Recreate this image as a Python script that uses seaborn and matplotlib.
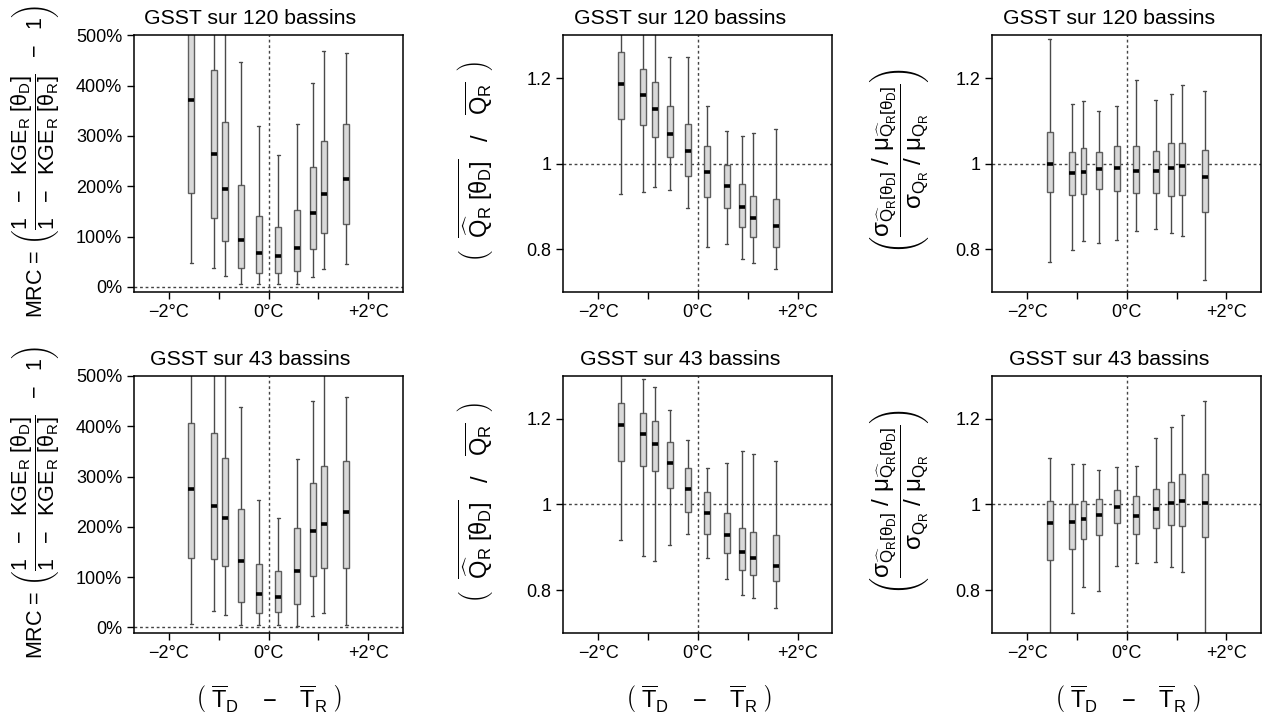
# boxplots of calibration transfer scores vs. temperature shift (GSST)

import numpy as np
import pandas as pd
import matplotlib
matplotlib.use("Agg")
import matplotlib.pyplot as plt
import seaborn as sns

sns.set_theme(style="ticks")
plt.rcParams["font.family"] = ["Liberation Sans", "DejaVu Sans"]
plt.rcParams["mathtext.fontset"] = "custom"
plt.rcParams["mathtext.rm"] = "Liberation Sans"
plt.rcParams["mathtext.it"] = "Liberation Sans"
plt.rcParams["mathtext.bf"] = "Liberation Sans:bold"
plt.rcParams["mathtext.sf"] = "Liberation Sans"
plt.rcParams["text.color"] = "black"

# temperature difference of each test period (degC)
delta_t = [-1.55, -1.1, -0.87, -0.56, -0.2, 0.19, 0.58, 0.89, 1.11, 1.56]

# five-number summaries: whisker low, Q1, median, Q3, whisker high
# MRC (%), 120 catchments
mrc120_lo = [48, 38, 21, 5, 6, 6, 5, 19, 36, 46]
mrc120_q1 = [187, 137, 91, 37, 28, 28, 31, 75, 107, 125]
mrc120_med = [371, 265, 195, 94, 67, 62, 77, 146, 185, 215]
mrc120_q3 = [560, 432, 328, 203, 140, 119, 152, 239, 289, 323]
mrc120_hi = [850, 700, 620, 447, 320, 263, 323, 405, 468, 464]

# MRC (%), 43 catchments
mrc43_lo = [7, 33, 24, 5, 5, 5, 3, 23, 29, 5]
mrc43_q1 = [138, 137, 123, 50, 28, 31, 47, 103, 118, 118]
mrc43_med = [276, 241, 218, 132, 66, 60, 113, 191, 205, 230]
mrc43_q3 = [406, 386, 337, 236, 127, 113, 197, 288, 320, 331]
mrc43_hi = [700, 650, 600, 438, 253, 218, 334, 451, 650, 459]

# mean flow ratio, 120 catchments
qm120_lo = [0.930, 0.935, 0.946, 0.940, 0.898, 0.807, 0.814, 0.778, 0.769, 0.755]
qm120_q1 = [1.104, 1.090, 1.062, 1.016, 0.971, 0.922, 0.896, 0.852, 0.830, 0.806]
qm120_med = [1.186, 1.160, 1.127, 1.069, 1.030, 0.981, 0.949, 0.899, 0.874, 0.855]
qm120_q3 = [1.260, 1.222, 1.192, 1.134, 1.094, 1.041, 0.997, 0.954, 0.925, 0.917]
qm120_hi = [1.45, 1.40, 1.35, 1.249, 1.249, 1.135, 1.076, 1.064, 1.073, 1.082]

# mean flow ratio, 43 catchments
qm43_lo = [0.917, 0.880, 0.867, 0.906, 0.931, 0.875, 0.827, 0.788, 0.782, 0.758]
qm43_q1 = [1.102, 1.090, 1.078, 1.039, 0.982, 0.931, 0.886, 0.848, 0.835, 0.822]
qm43_med = [1.185, 1.164, 1.140, 1.097, 1.035, 0.979, 0.928, 0.889, 0.875, 0.857]
qm43_q3 = [1.236, 1.213, 1.194, 1.146, 1.085, 1.028, 0.980, 0.945, 0.935, 0.928]
qm43_hi = [1.35, 1.292, 1.275, 1.220, 1.151, 1.086, 1.097, 1.124, 1.117, 1.101]

# coefficient of variation ratio, 120 catchments
cv120_lo = [0.770, 0.798, 0.819, 0.816, 0.822, 0.844, 0.848, 0.839, 0.831, 0.729]
cv120_q1 = [0.935, 0.927, 0.929, 0.941, 0.937, 0.931, 0.933, 0.924, 0.928, 0.887]
cv120_med = [1.000, 0.979, 0.981, 0.988, 0.990, 0.983, 0.983, 0.990, 0.996, 0.970]
cv120_q3 = [1.075, 1.028, 1.036, 1.028, 1.041, 1.042, 1.030, 1.048, 1.049, 1.033]
cv120_hi = [1.292, 1.139, 1.147, 1.124, 1.136, 1.195, 1.149, 1.164, 1.185, 1.171]

# coefficient of variation ratio, 43 catchments
cv43_lo = [0.62, 0.747, 0.808, 0.799, 0.857, 0.864, 0.866, 0.853, 0.843, 0.60]
cv43_q1 = [0.871, 0.896, 0.919, 0.928, 0.956, 0.931, 0.945, 0.952, 0.950, 0.924]
cv43_med = [0.956, 0.960, 0.966, 0.976, 0.994, 0.974, 0.990, 1.004, 1.007, 1.004]
cv43_q3 = [1.009, 1.002, 1.007, 1.013, 1.033, 1.020, 1.037, 1.053, 1.071, 1.070]
cv43_hi = [1.108, 1.095, 1.094, 1.080, 1.087, 1.089, 1.154, 1.180, 1.210, 1.242]

x_ticks = [-2, -1, 0, 1, 2]
x_ticklabels = ["\u22122°C", "", "0°C", "", "+2°C"]

ylab_mrc = (r"MRC = $\left(\dfrac{1\ \ -\ \ \mathrm{KGE}_\mathrm{R}\ [\theta_\mathrm{D}]}"
            r"{1\ \ -\ \ \mathrm{KGE}_\mathrm{R}\ [\theta_\mathrm{R}]}\ \ -\ \ 1\right)$")
ylab_qm = (r"$\left(\ \ \overline{\widehat{\mathrm{Q}}_\mathrm{R}\ [\theta_\mathrm{D}]}"
           r"\ \ \ /\ \ \ \overline{\mathrm{Q}_\mathrm{R}}\ \ \right)$")
ylab_cv = (r"$\left(\dfrac{\sigma_{\widehat{\mathrm{Q}}_\mathrm{R}[\theta_\mathrm{D}]}\ /\ "
           r"\mu_{\widehat{\mathrm{Q}}_\mathrm{R}[\theta_\mathrm{D}]}}"
           r"{\sigma_{\mathrm{Q}_\mathrm{R}}\ /\ \mu_{\mathrm{Q}_\mathrm{R}}}\right)$")
xlab = (r"$\left(\ \overline{\mathrm{T}}_\mathrm{D}\ \ \ -\ \ \ "
        r"\overline{\mathrm{T}}_\mathrm{R}\ \right)$")


def summary_frame(lo, q1, med, q3, hi):
    """Long frame with the five summary values per position."""
    rows = []
    for pos, vals in zip(delta_t, zip(lo, q1, med, q3, hi)):
        for v in vals:
            rows.append({"dt": pos, "val": v})
    return pd.DataFrame(rows)


def draw_panel(ax, df, title, ylim, yticks, yticklabels, ref):
    width = 0.12 / np.min(np.diff(delta_t))
    sns.boxplot(data=df, x="dt", y="val", native_scale=True, orient="x",
                whis=np.inf, width=width, color="#d9d9d9",
                linecolor="#5f5f5f", linewidth=1.0,
                medianprops={"color": "black", "linewidth": 2.6},
                whiskerprops={"color": "#4a4a4a", "linewidth": 1.0},
                capprops={"color": "#4a4a4a", "linewidth": 1.0},
                ax=ax)
    ax.axvline(0, color="#444444", lw=1, ls=(0, (2, 2)), zorder=0.5)
    ax.axhline(ref, color="#444444", lw=1, ls=(0, (2, 2)), zorder=0.5)
    ax.set_xlim(-2.7, 2.7)
    ax.set_ylim(*ylim)
    ax.set_xticks(x_ticks)
    ax.set_xticklabels(x_ticklabels)
    ax.set_yticks(yticks)
    ax.set_yticklabels(yticklabels)
    ax.tick_params(labelsize=13, length=5, width=1, color="black",
                   labelcolor="black")
    for s in ax.spines.values():
        s.set_visible(True)
        s.set_color("black")
        s.set_linewidth(1.1)
    ax.set_xlabel("")
    ax.set_ylabel("")
    ax.set_title(title, fontsize=15.3, x=0.433, pad=8, color="black")


fig = plt.figure(figsize=(12.62, 7.22), dpi=100)

lefts = [0.1062, 0.4464, 0.7863]
bottoms = [0.5951, 0.1233]
w, h = 0.2132, 0.3560

panels = [
    [(summary_frame(mrc120_lo, mrc120_q1, mrc120_med, mrc120_q3, mrc120_hi), "mrc"),
     (summary_frame(qm120_lo, qm120_q1, qm120_med, qm120_q3, qm120_hi), "qm"),
     (summary_frame(cv120_lo, cv120_q1, cv120_med, cv120_q3, cv120_hi), "cv")],
    [(summary_frame(mrc43_lo, mrc43_q1, mrc43_med, mrc43_q3, mrc43_hi), "mrc"),
     (summary_frame(qm43_lo, qm43_q1, qm43_med, qm43_q3, qm43_hi), "qm"),
     (summary_frame(cv43_lo, cv43_q1, cv43_med, cv43_q3, cv43_hi), "cv")],
]
titles = ["GSST sur 120 bassins", "GSST sur 43 bassins"]
ylabels = {"mrc": ylab_mrc, "qm": ylab_qm, "cv": ylab_cv}
ylab_x = {"mrc": 0.028, "qm": 0.376, "cv": 0.713}
ylab_fs = {"mrc": 15.5, "qm": 17, "cv": 17.5}

for r, row in enumerate(panels):
    for c, (df, kind) in enumerate(row):
        ax = fig.add_axes([lefts[c], bottoms[r], w, h])
        if kind == "mrc":
            draw_panel(ax, df, titles[r], (-11, 500), [0, 100, 200, 300, 400, 500],
                       ["0%", "100%", "200%", "300%", "400%", "500%"], 0)
        else:
            draw_panel(ax, df, titles[r], (0.7, 1.3), [0.8, 1.0, 1.2],
                       ["0.8", "1", "1.2"], 1)
        yc = bottoms[r] + h / 2 + 0.003
        fig.text(ylab_x[kind], yc, ylabels[kind], rotation=90,
                 ha="center", va="center", fontsize=ylab_fs[kind])
        if r == 1:
            fig.text(lefts[c] + w / 2, 1 - 698 / 722, xlab,
                     ha="center", va="center", fontsize=17)

fig.savefig("out.png", dpi=100)
